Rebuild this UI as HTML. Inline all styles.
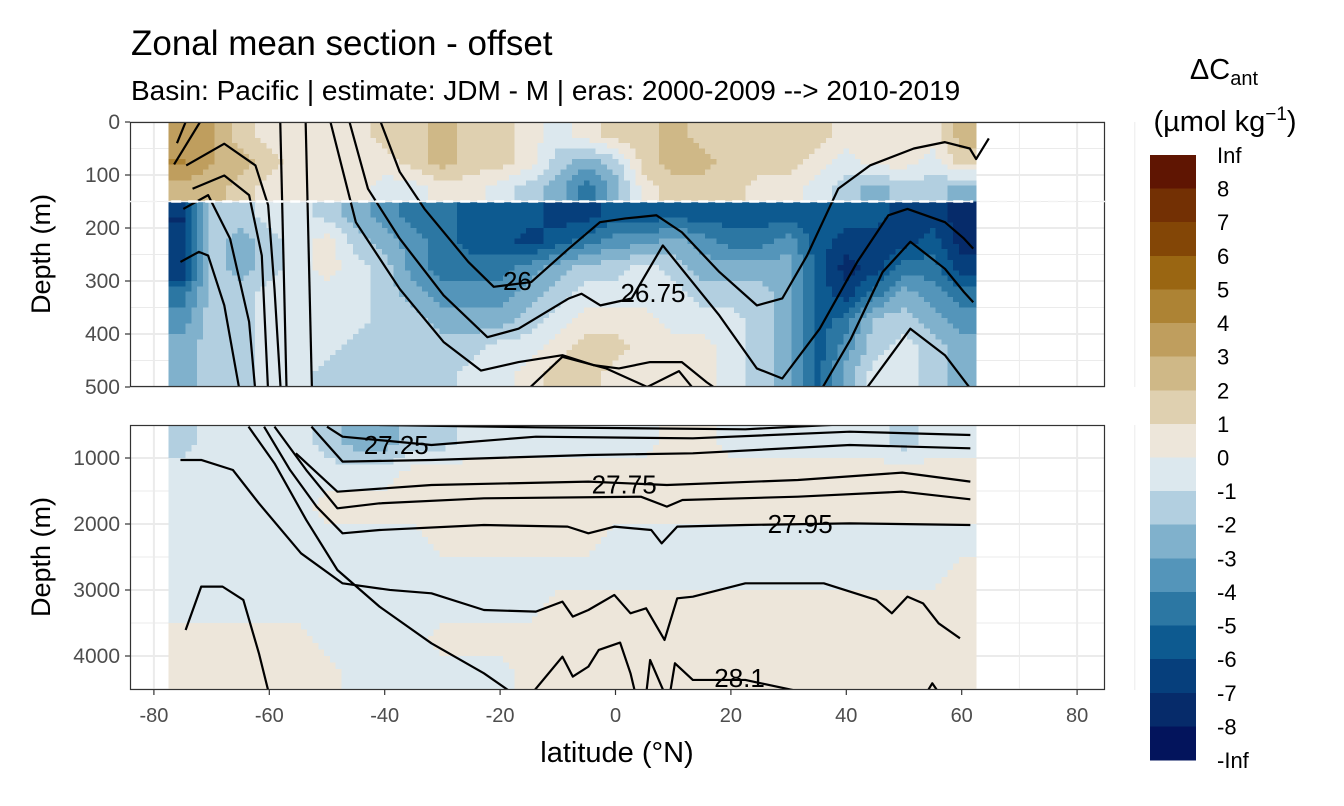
<!DOCTYPE html>
<html><head><meta charset="utf-8"><style>
body{margin:0;background:#fff;}
svg{display:block;font-family:"Liberation Sans",sans-serif;}
</style></head><body>
<svg id="chart" width="1344" height="806" viewBox="0 0 1344 806">
<text x="131" y="55" font-size="35" fill="#000">Zonal mean section - offset</text>
<text x="131" y="100" font-size="28" fill="#000">Basin: Pacific | estimate: JDM - M | eras: 2000-2009 --&gt; 2010-2019</text>
<text x="50" y="254" font-size="27" transform="rotate(-90 50 254)" text-anchor="middle">Depth (m)</text>
<text x="50" y="557" font-size="27" transform="rotate(-90 50 557)" text-anchor="middle">Depth (m)</text>
<text x="617" y="762" font-size="29" text-anchor="middle">latitude (°N)</text>
<text x="1224" y="79" font-size="29" text-anchor="middle">ΔC<tspan font-size="20" dy="6">ant</tspan></text>
<text x="1225" y="131" font-size="29" text-anchor="middle">(µmol kg<tspan font-size="19" dy="-11">−1</tspan><tspan dy="11">)</tspan></text>
<g id="top"></g><g id="bot"></g><g id="legend"></g>
</svg>
<script>
const NS='http://www.w3.org/2000/svg';
const latCenters=[-75,-70,-65,-60,-55,-50,-45,-40,-35,-30,-25,-20,-15,-10,-5,0,5,10,15,20,25,30,35,40,45,50,55,60];
const topDepths=[0,50,100,150,200,250,300,350,400,450,500];
const botDepths=[500,1000,1500,2000,2500,3000,3500,4000,4500];
const topValues=[
[3,3,1.5,0.5,0.5,0.5,0.5,1.5,1.5,2.5,1.5,1.5,0.5,-0.5,0.5,1.5,1.5,2.5,1.5,1.5,1.5,1.5,1.5,0.5,0.5,0.5,0.5,2.5],
[4,3,2.5,1.5,0.5,0.5,0.5,0.5,1.5,2.5,1.5,1.5,0.5,-1.5,-2.5,-1.5,1.5,2.5,2.5,1.5,1.5,1.5,0.5,-0.5,0.5,0.5,-0.5,1.5],
[2.5,2.5,1.5,0.5,0.5,0.5,0.5,-0.5,-0.5,0.5,0.5,-0.5,-1.5,-2.5,-4.5,-2.5,0.5,1.5,1.5,1.5,0.5,0.5,-0.5,-1.5,-2.5,-1.5,-1.5,-2.5],
[-7,-1.5,-1.5,-0.5,-0.5,-1.5,-2.5,-3.5,-4.5,-4.5,-5.5,-5.5,-5.5,-6.5,-6.5,-5.5,-5.5,-5.5,-5.5,-5.5,-5.5,-5.5,-5.5,-5.5,-5.5,-6.5,-6.5,-7.5],
[-7,-1.5,-2.5,-1.5,-0.5,0.5,-1.5,-2.5,-3.5,-4.5,-5.5,-5.5,-6.5,-5.5,-4.5,-3.5,-3.5,-2.5,-3.5,-4.5,-4.5,-3.5,-5.5,-6.5,-6.5,-6.5,-5.5,-7.5],
[-7,-1.5,-2.5,-1.5,-0.5,0.5,-0.5,-1.5,-3.5,-4.5,-4.5,-4.5,-3.5,-2.5,-1.5,-1.5,-0.5,-1.5,-2.5,-2.5,-2.5,-2.5,-5.5,-7.5,-6.5,-4.5,-4.5,-6.5],
[-4.5,-1.5,-1.5,-0.5,-0.5,-0.5,-0.5,-1.5,-2.5,-3.5,-3.5,-3.5,-2.5,-1.5,-0.5,-0.5,-0.5,-0.5,-1.5,-1.5,-1.5,-2.5,-5.5,-6.5,-4.5,-2.5,-3.5,-4.5],
[-3.5,-1.5,-1.5,-0.5,-0.5,-0.5,-0.5,-1.5,-1.5,-2.5,-2.5,-2.5,-1.5,-0.5,0.5,0.5,0.5,-0.5,-0.5,-0.5,-1.5,-2.5,-5.5,-4.5,-1.5,-1.5,-2.5,-3.5],
[-2.5,-1.5,-1.5,-0.5,-0.5,-0.5,-1.5,-1.5,-1.5,-1.5,-1.5,-0.5,-0.5,0.5,1.5,1.5,0.5,0.5,0.5,-0.5,-1.5,-2.5,-5.5,-3.5,-1.5,-0.5,-1.5,-2.5],
[-2.5,-1.5,-1.5,-0.5,-0.5,-1.5,-1.5,-1.5,-1.5,-1.5,-0.5,-0.5,0.5,1.5,1.5,0.5,0.5,0.5,0.5,-0.5,-1.5,-2.5,-5.5,-2.5,-0.5,-0.5,-1.5,-2.5]];
const botValues=[
[-1.5,-0.5,-0.5,-0.5,-0.5,-1.5,-2.5,-2.5,-1.5,-1.5,-0.5,-0.5,-0.5,-0.5,-0.5,-0.5,-0.5,0.5,0.5,-0.5,-0.5,-0.5,-0.5,-0.5,-0.5,-1.5,-0.5,-0.5],
[-0.5,-0.5,-0.5,-0.5,-0.5,-0.5,-0.5,-0.5,0.5,0.5,0.5,0.5,0.5,0.5,0.5,0.5,0.5,0.5,0.5,0.5,0.5,0.5,0.5,0.5,0.5,0.5,0.5,0.5],
[-0.5,-0.5,-0.5,-0.5,-0.5,0.5,0.5,0.5,0.5,0.5,0.5,0.5,0.5,0.5,0.5,0.5,0.5,0.5,0.5,0.5,0.5,0.5,0.5,0.5,0.5,0.5,0.5,0.5],
[-0.5,-0.5,-0.5,-0.5,-0.5,-0.5,-0.5,-0.5,-0.5,0.5,0.5,0.5,0.5,0.5,0.5,-0.5,-0.5,-0.5,-0.5,-0.5,-0.5,-0.5,-0.5,-0.5,-0.5,-0.5,-0.5,-0.5],
[-0.5,-0.5,-0.5,-0.5,-0.5,-0.5,-0.5,-0.5,-0.5,-0.5,-0.5,-0.5,-0.5,-0.5,-0.5,-0.5,-0.5,-0.5,-0.5,-0.5,-0.5,-0.5,-0.5,-0.5,-0.5,-0.5,-0.5,0.5],
[-0.5,-0.5,-0.5,-0.5,-0.5,-0.5,-0.5,-0.5,-0.5,-0.5,-0.5,-0.5,-0.5,0.5,0.5,0.5,0.5,0.5,0.5,0.5,0.5,0.5,0.5,0.5,0.5,0.5,0.5,0.5],
[0.5,0.5,0.5,0.5,0.5,-0.5,-0.5,-0.5,-0.5,0.5,0.5,0.5,0.5,0.5,0.5,0.5,0.5,0.5,0.5,0.5,0.5,0.5,0.5,0.5,0.5,0.5,0.5,0.5],
[0.5,0.5,0.5,0.5,0.5,0.5,-0.5,-0.5,-0.5,-0.5,-0.5,-0.5,0.5,0.5,0.5,0.5,0.5,0.5,0.5,0.5,0.5,0.5,0.5,0.5,0.5,0.5,0.5,0.5]];
const binColors=['#03145c','#062b6a','#063f7c','#0d5a90','#2c77a3','#5495ba','#80b1cc','#b2cfe0','#dce8ee','#ede6da','#dfd0b0','#cfb887','#bf9e5e','#ad8334','#9a6612','#834606','#733004','#5f1502'];
const legendLabels=['Inf','8','7','6','5','4','3','2','1','0','-1','-2','-3','-4','-5','-6','-7','-8','-Inf'];
const xTicks=[-80,-60,-40,-20,0,20,40,60,80];
const topTicks=[0,100,200,300,400,500];
const botTicks=[1000,2000,3000,4000];
const topContours=[
[[-40.7,0],[-37.4,94],[-33.1,164],[-25.5,264],[-21.1,311],[-14.6,302],[-8.1,239],[-2.7,189],[1.7,182],[7.1,176],[11.5,208],[18,283],[24.5,346],[28.9,333],[33.2,252],[38.6,126],[44.1,82],[51.7,50],[57.1,38],[61.4,50],[62.5,70],[64.7,31]],
[[-46.1,0],[-42.9,126],[-37.4,220],[-29.8,327],[-22.2,406],[-16.8,390],[-8.1,333],[-5.9,324],[-2.6,346],[2.8,333],[8.2,233],[18,365],[24.5,465],[28.9,484],[35.4,390],[41.9,264],[47.3,176],[50.6,164],[57.1,189],[60.4,220],[62,239]],
[[-49.4,0],[-45,189],[-37.4,315],[-29.8,415],[-23.3,469],[-16.8,453],[-9.2,440],[-3.7,459],[0.6,465],[6,453],[11.5,453],[15.8,491],[19.1,516]],
[[35.4,510],[40.8,409],[46.3,283],[51.1,226],[57.1,277],[60.4,321],[62,340]],
[[-15.7,510],[-9.2,443],[-1.6,465],[5.5,500],[11,470],[14,510]],
[[43,510],[51.1,390],[57.1,440],[61.5,503]],
[[-58.1,0],[-57,510]],
[[-53.7,0],[-52.6,510]],
[[-74.4,82],[-67.8,41],[-62.4,82],[-60.2,157],[-59.1,315],[-58,510]],
[[-73.3,126],[-67.8,101],[-63.5,138],[-61.3,252],[-60.2,510]],
[[-74.9,164],[-70.6,138],[-66.8,220],[-63.5,377],[-62.4,510]],
[[-75.4,264],[-72.2,245],[-70.6,252],[-67.8,346],[-65.1,510]],
[[-76,40],[-74.5,0]],[[-76.5,80],[-72,0]]];
const botContours=[
[[-75.4,1030],[-71.8,1030],[-66.3,1182],[-61.8,1687],[-54.5,2444],[-47.3,2899],[-39.1,2999],[-31.9,3050],[-22.8,3303],[-13.8,3328],[-9.2,3176],[-7.4,3404],[-4.7,3303],[-0.2,3075],[2.6,3353],[5.3,3277],[8.5,3757],[10.7,3126],[13.4,3101],[22.5,2899],[36.1,2899],[45.2,3151],[47.9,3353],[50.6,3101],[53.3,3202],[56,3505],[59.7,3732]],
[[-63.6,525],[-59.1,1081],[-53.6,1939],[-48.2,2697],[-40.9,3252],[-31.9,3808],[-22.8,4262],[-17.4,4590]],
[[-74.5,3606],[-71.8,2949],[-68.1,2949],[-64.5,3151],[-61.8,3959],[-60,4590]],
[[-60.9,525],[-56.4,1182],[-51.8,1737],[-47.3,2141],[-40.9,2091],[-22.8,2015],[-8.3,2040],[-4.7,2141],[-0.2,2040],[6.2,2091],[8,2293],[10.7,2040],[22.5,2015],[40.6,1990],[61.5,2015]],
[[-59.1,525],[-53.6,1182],[-48.2,1762],[-40.9,1687],[-22.8,1611],[4.4,1586],[8.9,1737],[11.6,1636],[31.6,1586],[49.7,1510],[61.5,1626]],
[[-55.4,929],[-48.2,1510],[-31.9,1409],[-4.7,1358],[8.9,1409],[31.6,1333],[49.7,1222],[61.5,1358]],
[[-52.7,525],[-47.3,1055],[-31.9,1030],[-4.7,954],[13.4,929],[40.6,803],[61.5,853]],
[[-50,525],[-47.3,677],[-31.9,803],[-13.8,677],[13.4,702],[40.6,601],[61.5,651]],
[[-40.9,500],[-13.8,535],[22.5,565],[40.6,485]],
[[-14.7,4590],[-9.2,4010],[-7.4,4312],[-4.7,4161],[-2.9,3908],[0.8,3797],[2.6,4262],[3.5,4590]],
[[5.3,4590],[6,4060],[8.5,4565]],
[[9.4,4590],[10.3,4110],[13.4,4363],[22.5,4363],[33.4,4565]],
[[54.2,4514],[54.9,4413],[55.9,4540]]];
const topLabels=[['26',-17,300],['26.75',6.5,323]];
const botLabels=[['27.25',-38,800],['27.75',1.5,1400],['27.95',32,2000],['28.1',21.5,4330]];

const X0=130,X1=1105;
const xs=lat=>615.5+lat*5.77;
const topY=d=>122+d*0.53;
const botY=d=>425+(d-500)*0.066;
function colorFor(v){if(v<-8)return binColors[0];if(v>=8)return binColors[17];return binColors[Math.floor(v)+9];}
function mk(tag,attrs,parent){const e=document.createElementNS(NS,tag);for(const k in attrs)e.setAttribute(k,attrs[k]);parent.appendChild(e);return e;}
function sample(values,depths,r0,r1,lat,d){
  let fc=(lat-latCenters[0])/5; fc=Math.max(0,Math.min(latCenters.length-1,fc));
  const mids=[];for(let r=r0;r<=r1;r++)mids.push((depths[r]+depths[r+1])/2);
  let fr;
  if(d<=mids[0])fr=0;else if(d>=mids[mids.length-1])fr=mids.length-1;
  else{for(let i=0;i<mids.length-1;i++){if(d>=mids[i]&&d<=mids[i+1]){fr=i+(d-mids[i])/(mids[i+1]-mids[i]);break;}}}
  const c0=Math.floor(fc),c1=Math.min(c0+1,latCenters.length-1),tc=fc-c0;
  const i0=Math.floor(fr),i1=Math.min(i0+1,mids.length-1),tr=fr-i0;
  const v=(r,c)=>values[r0+r][c];
  return (1-tr)*((1-tc)*v(i0,c0)+tc*v(i0,c1))+tr*((1-tc)*v(i1,c0)+tc*v(i1,c1));
}

function panel(g,yTop,yBot,ys,depths,values,groups,contours,labels,yTicks,minorY,name){
  mk('rect',{x:X0,y:yTop,width:X1-X0,height:yBot-yTop,fill:'#fff'},g);
  const grid=document.createElementNS(NS,'g');g.appendChild(grid);
  
  
  for(let l=-70;l<=90;l+=20){mk('line',{x1:xs(l),x2:xs(l),y1:yTop,y2:yBot,stroke:'#ebebeb','stroke-width':1},grid);}
  xTicks.forEach(l=>mk('line',{x1:xs(l),x2:xs(l),y1:yTop,y2:yBot,stroke:'#ebebeb','stroke-width':2},grid));
  minorY.forEach(d=>mk('line',{x1:X0,x2:X1,y1:ys(d),y2:ys(d),stroke:'#ebebeb','stroke-width':1},grid));
  yTicks.forEach(d=>mk('line',{x1:X0,x2:X1,y1:ys(d),y2:ys(d),stroke:'#ebebeb','stroke-width':2},grid));
  const cid='clip-'+name;
  const cp=mk('clipPath',{id:cid},g);mk('rect',{x:X0,y:yTop,width:X1-X0,height:yBot-yTop},cp);
  const cells=mk('g',{'clip-path':'url(#'+cid+')','shape-rendering':'crispEdges'},g);
  
  
  const N=5;
  for(let r=0;r<values.length;r++){
    const grp=groups.find(q=>r>=q[0]&&r<=q[1]);
    for(let c=0;c<latCenters.length;c++){
      for(let i=0;i<N;i++)for(let j=0;j<N;j++){
        const la0=latCenters[c]-2.5+5*i/N,la1=la0+5/N;
        const d0=depths[r]+(depths[r+1]-depths[r])*j/N,d1=d0+(depths[r+1]-depths[r])/N;
        const v=sample(values,depths,grp[0],grp[1],(la0+la1)/2,(d0+d1)/2);
        const x=xs(la0),y=ys(d0);
        const rc=mk('rect',{x:x,y:y,width:xs(la1)-x+0.6,height:ys(d1)-y+0.6,fill:colorFor(v)},cells);
        
        
      }
    }
  }
  const lines=mk('g',{'clip-path':'url(#'+cid+')'},g);
  
  
  contours.forEach(pts=>{
    const p=mk('polyline',{points:pts.map(q=>xs(q[0])+','+ys(q[1])).join(' '),fill:'none',stroke:'#000','stroke-width':2.2,'stroke-linejoin':'round'},lines);
    
    
  });
  labels.forEach(l=>{
    const t=mk('text',{x:xs(l[1]),y:ys(l[2])+9,'font-size':26,'text-anchor':'middle',fill:'#000'},lines);
    t.textContent=l[0];
    
    
  });
  mk('rect',{x:X0+0.5,y:yTop+0.5,width:X1-X0-1,height:yBot-yTop-1,fill:'none',stroke:'#333','stroke-width':1.2},g);
  yTicks.forEach(d=>{
    mk('line',{x1:X0-5,x2:X0,y1:ys(d),y2:ys(d),stroke:'#333','stroke-width':1.2},g);
    const t=mk('text',{x:X0-10,y:ys(d)+7,'font-size':21,'text-anchor':'end',fill:'#4d4d4d'},g);
    t.textContent=d;
    
    
  });
}
const topG=document.getElementById('top');


panel(topG,122,387,topY,topDepths,topValues,[[0,2],[3,9]],topContours,topLabels,topTicks,[50,150,250,350,450],'upper');
mk('line',{x1:X0,x2:X1,y1:topY(150),y2:topY(150),stroke:'#f2f2f2','stroke-width':1.5,'stroke-dasharray':'10,7'},topG);
mk('line',{x1:xs(-77),x2:xs(62),y1:topY(150),y2:topY(150),stroke:'#fff','stroke-width':2.5,'stroke-dasharray':'10,7'},topG);
const botG=document.getElementById('bot');


panel(botG,425,690,botY,botDepths,botValues,[[0,7]],botContours,botLabels,botTicks,[1500,2500,3500,4500],'lower');
xTicks.forEach(l=>{
  mk('line',{x1:xs(l),x2:xs(l),y1:690,y2:695,stroke:'#333','stroke-width':1.2},botG);
  const t=mk('text',{x:xs(l),y:722,'font-size':20,'text-anchor':'middle',fill:'#4d4d4d'},botG);
  t.textContent=l;
  
  
});
const lg=document.getElementById('legend');


const LB0=155,LBH=(760-155)/18;
for(let i=0;i<18;i++){
  const r=mk('rect',{x:1150,y:LB0+i*LBH,width:46,height:LBH+0.5,fill:binColors[17-i],'shape-rendering':'crispEdges'},lg);
  
  
}
legendLabels.forEach((s,i)=>{
  const t=mk('text',{x:1217,y:LB0+i*LBH+8,'font-size':22,fill:'#000'},lg);
  t.textContent=s;
  
  
});
</script>
</body></html>
